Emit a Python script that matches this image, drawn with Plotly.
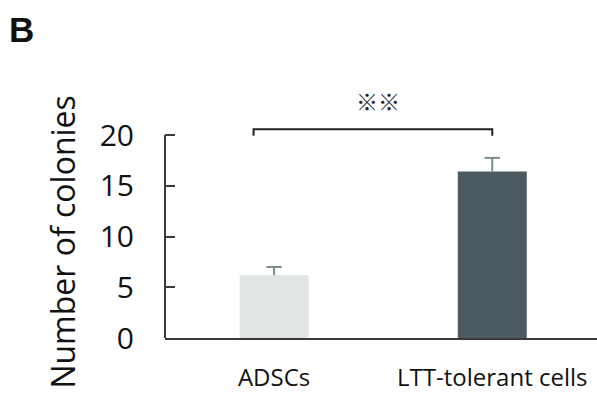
import plotly.graph_objects as go

categories = ["ADSCs", "LTT-tolerant cells"]
values = [6.2, 16.4]
errors = [0.8, 1.35]
bar_colors = ["#e1e4e4", "#4b5b61"]
y_ticks = [0, 5, 10, 15, 20]
sig_label = "※※"
y_title = "Number of colonies"
panel_label = "B"

Y_MAX = 24.93
AXIS_COLOR = "#3a3a3a"
ERR_COLOR = "#7c8b8f"
FONT = "Open Sans"
xpos = list(range(len(categories)))

fig = go.Figure()
fig.add_trace(go.Bar(
    x=xpos, y=values,
    width=0.316,
    marker=dict(color=bar_colors, line=dict(width=0)),
    showlegend=False, hoverinfo="skip",
))

# upper-only error bars: stems + caps built from the data arrays
ex, ey = [], []
for xi, v, e in zip(xpos, values, errors):
    ex += [xi, xi, None]
    ey += [v, v + e, None]
fig.add_trace(go.Scatter(x=ex, y=ey, mode="lines",
                         line=dict(color=ERR_COLOR, width=2), showlegend=False, hoverinfo="skip"))
fig.add_trace(go.Scatter(x=xpos, y=[v + e for v, e in zip(values, errors)], mode="markers",
                         marker=dict(symbol="line-ew", size=11,
                                     line=dict(color=ERR_COLOR, width=2)),
                         showlegend=False, hoverinfo="skip"))

# significance bracket (data coords)
br_y = 20.58
br_drop = 19.93
fig.add_shape(type="path",
              path=f"M -0.094,{br_drop} L -0.094,{br_y} L 1,{br_y} L 1,{br_drop}",
              xref="x", yref="y", line=dict(color="#222222", width=2))
fig.add_annotation(x=0.478, y=23.5, xref="x", yref="y", text=sig_label, showarrow=False,
                   font=dict(family="Noto Sans CJK JP", size=22, color="#222222"),
                   xanchor="center", yanchor="middle")

# y axis line from 0 to 20
fig.add_shape(type="line", xref="paper", yref="paper", x0=0, x1=0,
              y0=0, y1=max(y_ticks) / Y_MAX, line=dict(color=AXIS_COLOR, width=2))

fig.add_annotation(x=(63 - 165) / 432, y=9.4, xref="paper", yref="y", text=y_title, textangle=-90,
                   showarrow=False, font=dict(family=FONT, size=32, color="#111111"),
                   xanchor="center", yanchor="middle")
fig.add_annotation(x=(7 - 165) / 432, y=1 + (85 - 6) / 258, xref="paper", yref="paper",
                   text=f"<b>{panel_label}</b>",
                   showarrow=False, font=dict(family="Liberation Sans", size=35, color="#111111"),
                   xanchor="left", yanchor="top")

fig.update_layout(
    width=597, height=393,
    margin=dict(l=165, r=0, t=85, b=50),
    paper_bgcolor="white", plot_bgcolor="white",
    font=dict(family=FONT, color="#111111"),
    xaxis=dict(range=[-0.5, 1.48], tickvals=xpos, ticktext=categories,
               showline=True, linecolor=AXIS_COLOR, linewidth=2, ticks="",
               showgrid=False, zeroline=False, tickfont=dict(size=24, color="#111111"),
               ticklabelstandoff=17),
    yaxis=dict(range=[0, Y_MAX], tickvals=y_ticks, showline=False, ticks="inside",
               ticklen=10, tickwidth=2, tickcolor=AXIS_COLOR, showgrid=False, zeroline=False,
               tickfont=dict(size=30, color="#111111"), ticklabelstandoff=30),
)

fig.write_html("out.html")
